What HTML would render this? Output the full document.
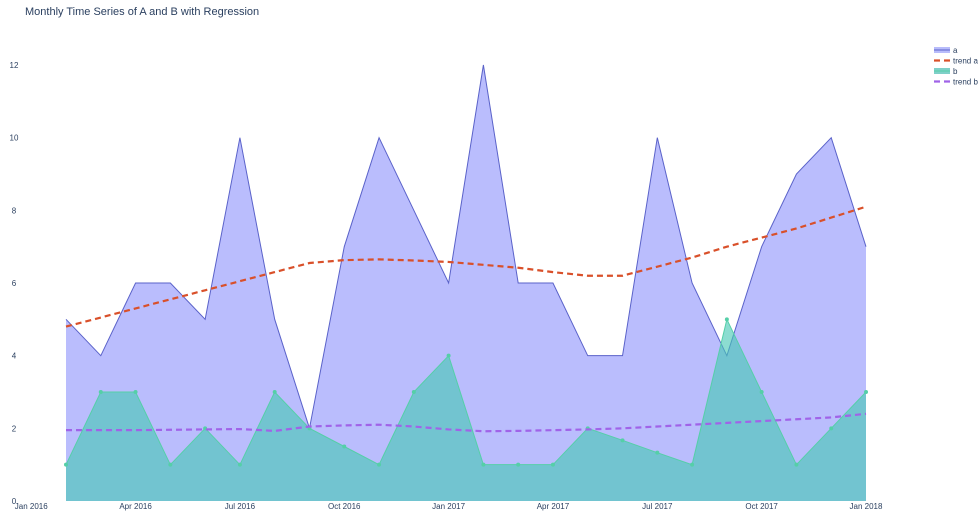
<!DOCTYPE html>
<html><head><meta charset="utf-8"><style>
body{margin:0;background:#fff;font-family:"Liberation Sans",sans-serif}
svg{display:block}
</style></head><body>
<svg id="chart" width="980" height="532" xmlns="http://www.w3.org/2000/svg">
<text x="25" y="15" font-size="11" fill="#2a3f5f">Monthly Time Series of A and B with Regression</text>
<g id="plot"></g>
<g id="legend"></g>
</svg>
<script>
const months = ["2016-01","2016-02","2016-03","2016-04","2016-05","2016-06","2016-07","2016-08","2016-09","2016-10","2016-11","2016-12","2017-01","2017-02","2017-03","2017-04","2017-05","2017-06","2017-07","2017-08","2017-09","2017-10","2017-11","2017-12"];
const seriesA = [5,4,6,6,5,10,5,2,7,10,8,6,12,6,6,4,4,10,6,4,7,9,10,7];
const seriesB = [1,3,3,1,2,1,3,2,1.5,1,3,4,1,1,1,2,1.67,1.33,1,5,3,1,2,3];
const trendA = [4.8,5.05,5.3,5.55,5.8,6.05,6.3,6.55,6.63,6.65,6.62,6.58,6.5,6.42,6.3,6.2,6.2,6.45,6.7,7.0,7.25,7.5,7.8,8.1];
const trendB = [1.95,1.95,1.95,1.96,1.97,1.98,1.93,2.05,2.08,2.1,2.05,1.97,1.92,1.93,1.95,1.97,2.0,2.05,2.1,2.15,2.2,2.25,2.3,2.4];
const yTicks = [0,2,4,6,8,10,12];
const xTickLabels = ["Jan 2016","Apr 2016","Jul 2016","Oct 2016","Jan 2017","Apr 2017","Jul 2017","Oct 2017","Jan 2018"];
const xTickMonths = [-1,2,5,8,11,14,17,20,23];

const NS="http://www.w3.org/2000/svg";
const plot=document.getElementById('plot');
const x0=66,x1=866;
function xs(i){return x0+i*(x1-x0)/(months.length-1);}
function ys(v){return 501-v*(501-65)/12;}
function mk(tag,attrs,parent){const e=document.createElementNS(NS,tag);for(const k in attrs)e.setAttribute(k,attrs[k]);(parent||plot).appendChild(e);return e;}

function area(vals,fill,stroke,name){
  let d='M'+xs(0)+','+ys(0);
  vals.forEach((v,i)=>d+=' L'+xs(i)+','+ys(v));
  d+=' L'+xs(vals.length-1)+','+ys(0)+' Z';
  const a=mk('path',{d:d,fill:fill,stroke:'none'});
  
  
  const l=mk('path',{d:'M'+vals.map((v,i)=>xs(i)+','+ys(v)).join(' L'),fill:'none',stroke:stroke,'stroke-width':1});
  
  
}
area(seriesA,'rgba(110,118,250,0.48)','#5a62c9','series-a');
area(seriesB,'rgba(70,200,180,0.62)','#55cfa8','series-b');
seriesB.forEach((v,i)=>{
  const c=mk('circle',{cx:xs(i),cy:ys(v),r:2,fill:'#55cfa8'});
  
  
});
function trend(vals,color,name){
  const l=mk('path',{d:'M'+vals.map((v,i)=>xs(i)+','+ys(v)).join(' L'),fill:'none',stroke:color,'stroke-width':2.2,'stroke-dasharray':'6,4'});
  
  
}
trend(trendA,'#d9502a','trend-a-line');
trend(trendB,'#a063e8','trend-b-line');

yTicks.forEach(t=>{
  const e=mk('text',{x:14,y:ys(t)+3,'font-size':8,fill:'#2a3f5f','text-anchor':'middle'});
  e.textContent=t;
  
  
});
xTickLabels.forEach((lab,k)=>{
  const e=mk('text',{x:xs(xTickMonths[k]),y:509,'font-size':8,fill:'#2a3f5f','text-anchor':'middle'});
  e.textContent=lab;
  
  
});

const leg=document.getElementById('legend');
const items=[['a','#b8bcfb','#5a62c9',false],['trend a','#d9502a','#d9502a',true],['b','#7fd0c8','#55cfa8',false],['trend b','#a063e8','#a063e8',true]];
items.forEach((it,k)=>{
  const y=50+k*10.5;
  if(it[3]){
    mk('line',{x1:934,y1:y,x2:950,y2:y,stroke:it[1],'stroke-width':2.2,'stroke-dasharray':'6,4'},leg);
  }else{
    mk('rect',{x:934,y:y-3,width:16,height:6,fill:it[1]},leg);
    mk('line',{x1:934,y1:y,x2:950,y2:y,stroke:it[2],'stroke-width':1},leg);
  }
  const t=mk('text',{x:953,y:y+3,'font-size':8,fill:'#2a3f5f'},leg);
  t.textContent=it[0];
  
  
});
</script>
</body></html>
